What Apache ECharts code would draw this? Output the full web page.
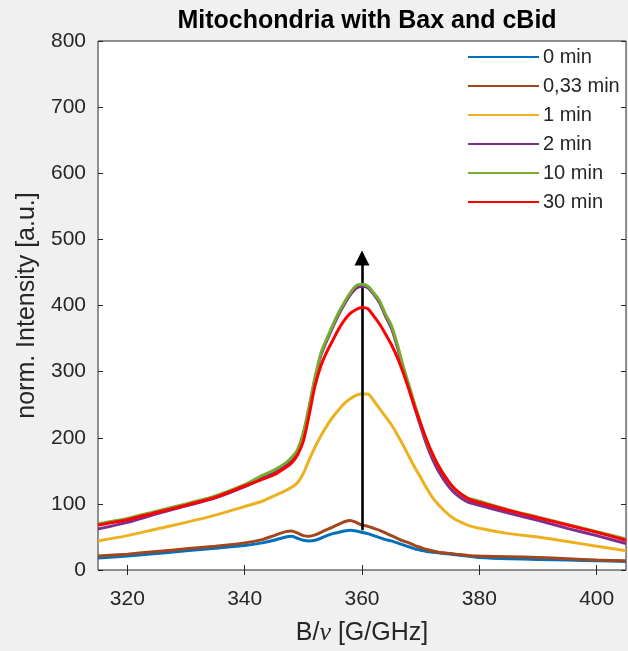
<!DOCTYPE html>
<html>
<head>
<meta charset="utf-8">
<script src="https://cdn.jsdelivr.net/npm/echarts@6/dist/echarts.min.js"></script>
<style>
  html, body { margin: 0; padding: 0; background: #f0f0f0; }
  #chart { width: 628px; height: 651px; }
</style>
</head>
<body>
<div id="chart"></div>
<script>
// Magnetic field / frequency ratio, B/nu [G/GHz]
const fieldRatio = [315, 320, 325, 330, 335, 340, 343, 345, 347, 348, 349, 350,
  351, 352, 353, 354, 355, 356, 357, 358, 359, 360, 361, 362, 363, 364, 365, 366,
  367, 368, 369, 370, 371, 372, 373, 374, 375, 376, 378, 380, 385, 390, 395, 400, 405];

// Normalised intensity for each incubation time
const int0min = [18, 21, 25, 29, 33, 37, 41, 45, 50, 51, 48, 45,
  44, 45, 48, 52, 55, 57, 59, 60, 59, 57, 55, 52, 49, 46, 44, 41,
  38, 35, 32, 30, 28, 27, 26, 25, 24, 23, 21, 19, 17, 16, 15, 14, 13];
const int033min = [21, 24, 28, 32, 36, 41, 46, 52, 58, 59, 56, 52,
  51, 53, 57, 61, 65, 69, 73, 75, 72, 68, 66, 63, 60, 56, 52, 48,
  44, 41, 37, 34, 31, 29, 27, 26, 25, 24, 22, 21, 20, 19, 17, 15, 14];
const int1min = [44, 52, 62, 72, 83, 96, 104, 112, 120, 125, 132, 146,
  167, 186, 203, 218, 231, 242, 252, 259, 264, 266, 266, 256, 244, 232, 220, 205,
  189, 172, 155, 140, 124, 110, 99, 90, 82, 76, 68, 63, 55, 50, 43, 36, 29];
const int2min = [62, 72, 85, 97, 109, 126, 139, 148, 159, 167, 179, 204,
  245, 289, 325, 347, 367, 386, 402, 416, 426, 429, 427, 417, 404, 384, 366, 338,
  305, 275, 245, 217, 190, 168, 150, 136, 124, 115, 103, 98, 86, 75, 63, 52, 40];
const int10min = [70, 78, 89, 100, 112, 129, 143, 151, 162, 170, 182, 208,
  248, 292, 328, 350, 370, 389, 405, 419, 430, 432, 429, 419, 407, 387, 370, 342,
  309, 280, 250, 222, 196, 175, 158, 144, 131, 121, 109, 104, 91, 80, 69, 58, 47];
const int30min = [68, 76, 87, 98, 110, 127, 137, 144, 155, 162, 174, 195,
  235, 279, 309, 330, 347, 364, 378, 388, 394, 397, 395, 384, 372, 357, 341, 322,
  299, 273, 246, 221, 197, 176, 158, 143, 131, 121, 108, 102, 90, 79, 68, 57, 45];

const seriesNames = ['0 min', '0,33 min', '1 min', '2 min', '10 min', '30 min'];
const seriesValues = [int0min, int033min, int1min, int2min, int10min, int30min];
const seriesColors = ['#0072BD', '#A2461E', '#EDB120', '#7E2F8E', '#77AC30', '#FF0000'];

const xTicks = [320, 340, 360, 380, 400];

// Arrow showing the intensity increase at the spectrum centre
const arrowX = 360;
const arrowFrom = 60;
const arrowTo = 472;

const FONT = "'Liberation Sans', Arial, Helvetica, sans-serif";
const INK = '#262626';

const chart = echarts.init(document.getElementById('chart'), null, { renderer: 'canvas' });

const series = seriesNames.map((name, i) => {
  const s = {
    name: name,
    type: 'line',
    data: fieldRatio.map((x, k) => [x, seriesValues[i][k]]),
    symbol: 'none',
    showSymbol: false,
    smooth: 0.25,
    lineStyle: { color: seriesColors[i], width: 3 },
    itemStyle: { color: seriesColors[i] },
    emphasis: { disabled: true },
    animation: false,
    z: 2 + i
  };
  if (i === seriesNames.length - 1) {
    s.markLine = {
      silent: true,
      animation: false,
      symbol: ['none', 'triangle'],
      symbolSize: [15, 15],
      label: { show: false },
      lineStyle: { color: '#000', width: 2.6, type: 'solid' },
      data: [[
        { coord: [arrowX, arrowFrom] },
        { coord: [arrowX, arrowTo] }
      ]]
    };
  }
  return s;
});

const tickStyle = { inside: true, length: 5, lineStyle: { color: INK, width: 1 } };

chart.setOption({
  backgroundColor: '#f0f0f0',
  animation: false,
  textStyle: { fontFamily: FONT },
  title: {
    text: 'Mitochondria with Bax and cBid',
    left: 362,
    top: 4,
    textAlign: 'center',
    textStyle: { fontFamily: FONT, fontSize: 25, fontWeight: 'bold', color: '#000' }
  },
  legend: {
    data: seriesNames,
    orient: 'vertical',
    left: 463,
    top: 42,
    itemWidth: 71,
    itemHeight: 14,
    itemGap: 9,
    icon: 'path://M0,6 L71,6 L71,8 L0,8 Z',
    selectedMode: false,
    textStyle: { fontFamily: FONT, fontSize: 20, color: INK, padding: [0, 0, 0, -1] }
  },
  grid: {
    left: 98,
    right: 2,
    top: 41,
    bottom: 79,
    show: true,
    backgroundColor: '#ffffff',
    borderColor: INK,
    borderWidth: 1
  },
  xAxis: [
    {
      type: 'value',
      min: 315,
      max: 405,
      position: 'bottom',
      name: 'B/{nu|ν} [G/GHz]',
      nameLocation: 'middle',
      nameGap: 50,
      nameTextStyle: {
        fontFamily: FONT, fontSize: 25, color: INK,
        rich: { nu: { fontFamily: "'Liberation Serif', 'DejaVu Serif', serif", fontStyle: 'italic', fontSize: 26, color: INK } }
      },
      axisLine: { show: false },
      axisTick: Object.assign({ customValues: xTicks }, tickStyle),
      axisLabel: { customValues: xTicks, fontFamily: FONT, fontSize: 21, color: INK, margin: 19 },
      splitLine: { show: false }
    },
    {
      type: 'value',
      min: 315,
      max: 405,
      position: 'top',
      axisLine: { show: false },
      axisTick: Object.assign({ customValues: xTicks }, tickStyle),
      axisLabel: { show: false },
      splitLine: { show: false }
    }
  ],
  yAxis: [
    {
      type: 'value',
      min: 0,
      max: 800,
      interval: 100,
      position: 'left',
      name: 'norm. Intensity [a.u.]',
      nameLocation: 'middle',
      nameGap: 57,
      nameTextStyle: { fontFamily: FONT, fontSize: 25, color: INK },
      axisLine: { show: false },
      axisTick: tickStyle,
      axisLabel: { fontFamily: FONT, fontSize: 21, color: INK, margin: 12 },
      splitLine: { show: false }
    },
    {
      type: 'value',
      min: 0,
      max: 800,
      interval: 100,
      position: 'right',
      axisLine: { show: false },
      axisTick: tickStyle,
      axisLabel: { show: false },
      splitLine: { show: false }
    }
  ],
  series: series
});
</script>
</body>
</html>
